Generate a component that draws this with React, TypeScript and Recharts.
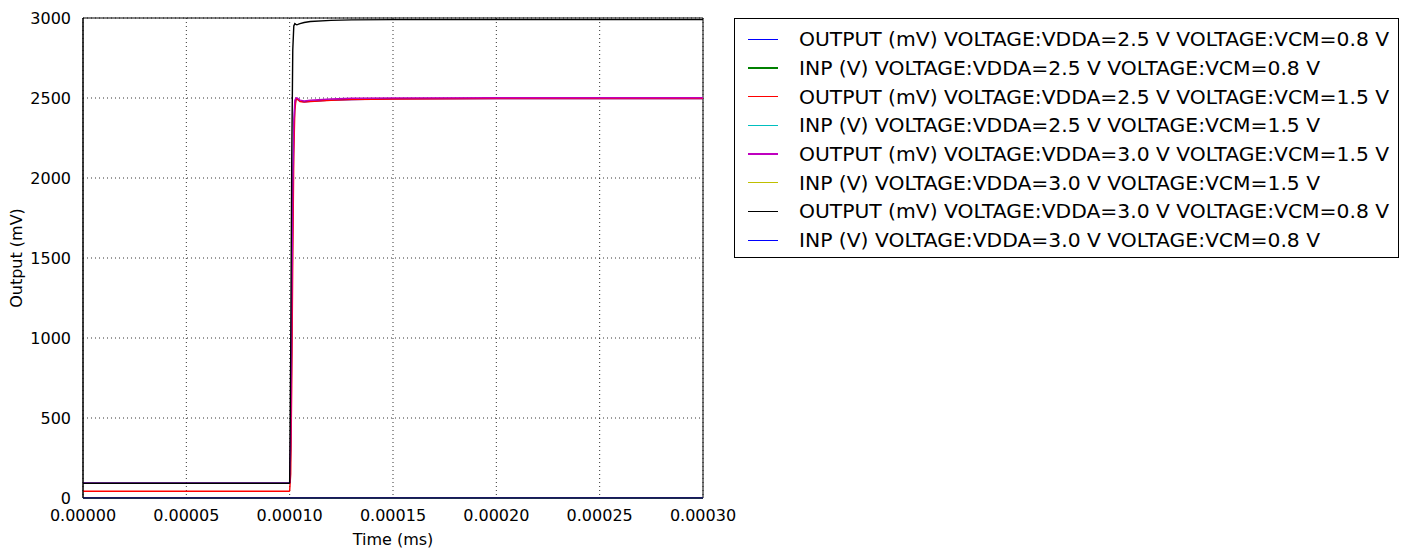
import {
  CartesianGrid,
  Line,
  LineChart,
  ReferenceArea,
  XAxis,
  YAxis,
} from "recharts";

const time = [
  0, 0.00005, 0.0000998, 0.0001, 0.0001005, 0.000101, 0.0001015, 0.000102, 0.0001025,
  0.000103, 0.0001035, 0.000104, 0.000105, 0.000107, 0.00011, 0.00012, 0.00013,
  0.00015, 0.0002, 0.00025, 0.0003,
];

const out25vcm08 = [92, 92, 92, 94, 300, 1000, 1800, 2300, 2450, 2490, 2495, 2490, 2480, 2476, 2480, 2487, 2491, 2495, 2496, 2496, 2496];
const inp25vcm08 = [0.8, 0.8, 0.8, 0.8, 0.8, 0.8, 0.8, 0.8, 0.8, 0.8, 0.8, 0.8, 0.8, 0.8, 0.8, 0.8, 0.8, 0.8, 0.8, 0.8, 0.8];
const out25vcm15 = [42, 42, 42, 45, 150, 700, 1500, 2150, 2420, 2485, 2495, 2490, 2478, 2474, 2478, 2486, 2490, 2494, 2496, 2496, 2496];
const inp25vcm15 = [1.5, 1.5, 1.5, 1.5, 1.5, 1.5, 1.5, 1.5, 1.5, 1.5, 1.5, 1.5, 1.5, 1.5, 1.5, 1.5, 1.5, 1.5, 1.5, 1.5, 1.5];
const out30vcm15 = [92, 92, 92, 95, 400, 1200, 1900, 2350, 2485, 2500, 2502, 2497, 2487, 2482, 2486, 2494, 2498, 2501, 2502, 2502, 2502];
const inp30vcm15 = [1.5, 1.5, 1.5, 1.5, 1.5, 1.5, 1.5, 1.5, 1.5, 1.5, 1.5, 1.5, 1.5, 1.5, 1.5, 1.5, 1.5, 1.5, 1.5, 1.5, 1.5];
const out30vcm08 = [92, 92, 92, 95, 900, 2100, 2800, 2950, 2965, 2960, 2958, 2960, 2965, 2972, 2978, 2985, 2988, 2990, 2990, 2990, 2990];
const inp30vcm08 = [0.8, 0.8, 0.8, 0.8, 0.8, 0.8, 0.8, 0.8, 0.8, 0.8, 0.8, 0.8, 0.8, 0.8, 0.8, 0.8, 0.8, 0.8, 0.8, 0.8, 0.8];

const seriesNames = [
  "OUTPUT (mV) VOLTAGE:VDDA=2.5 V VOLTAGE:VCM=0.8 V",
  "INP (V) VOLTAGE:VDDA=2.5 V VOLTAGE:VCM=0.8 V",
  "OUTPUT (mV) VOLTAGE:VDDA=2.5 V VOLTAGE:VCM=1.5 V",
  "INP (V) VOLTAGE:VDDA=2.5 V VOLTAGE:VCM=1.5 V",
  "OUTPUT (mV) VOLTAGE:VDDA=3.0 V VOLTAGE:VCM=1.5 V",
  "INP (V) VOLTAGE:VDDA=3.0 V VOLTAGE:VCM=1.5 V",
  "OUTPUT (mV) VOLTAGE:VDDA=3.0 V VOLTAGE:VCM=0.8 V",
  "INP (V) VOLTAGE:VDDA=3.0 V VOLTAGE:VCM=0.8 V",
];
const seriesValues = [out25vcm08, inp25vcm08, out25vcm15, inp25vcm15, out30vcm15, inp30vcm15, out30vcm08, inp30vcm08];
const colors = ["#0000ff", "#008000", "#ff0000", "#00bfbf", "#bf00bf", "#bfbf00", "#000000", "#0000ff"];

const xTicks = [0, 0.00005, 0.0001, 0.00015, 0.0002, 0.00025, 0.0003];
const yTicks = [0, 500, 1000, 1500, 2000, 2500, 3000];

const data = time.map((t, i) => {
  const row: Record<string, number> = { t };
  seriesValues.forEach((vals, s) => {
    row[`s${s}`] = vals[i];
  });
  return row;
});

const font = "DejaVu Sans, sans-serif";

const LegendBox = () => (
  <div
    style={{
      position: "absolute",
      left: 726,
      top: 10,
      border: "1px solid #000",
      background: "#fff",
      boxSizing: "border-box",
      width: 665,
      height: 240,
      padding: "6px 0 0 13px",
      fontFamily: font,
      fontSize: 20.3,
      color: "#000",
    }}
  >
    {seriesNames.map((name, i) => (
      <div key={name} style={{ display: "flex", alignItems: "center", height: 28.7 }}>
        <div style={{ width: 30, height: 1.3, background: colors[i], marginRight: 21 }} />
        <span style={{ whiteSpace: "nowrap" }}>{name}</span>
      </div>
    ))}
  </div>
);

export default function App() {
  return (
    <div style={{ position: "relative", width: 1400, height: 549 }}>
      <LineChart
        width={1400}
        height={549}
        data={data}
        margin={{ top: 10, right: 705, bottom: 0, left: 0 }}
        style={{ fontFamily: font }}
      >
        <CartesianGrid stroke="#000" strokeDasharray="1 3" strokeWidth={0.8} />
        <XAxis
          type="number"
          dataKey="t"
          domain={[0, 0.0003]}
          ticks={xTicks}
          tickFormatter={(v: number) => v.toFixed(5)}
          tick={{ fill: "#000", fontSize: 16 }}
          tickLine={false}
          axisLine={{ stroke: "#000" }}
          height={59}
          tickMargin={6}
          label={{ value: "Time (ms)", position: "insideBottom", offset: 12, fill: "#000", fontSize: 16 }}
        />
        <YAxis
          type="number"
          domain={[0, 3000]}
          ticks={yTicks}
          tick={{ fill: "#000", fontSize: 16 }}
          tickLine={false}
          axisLine={{ stroke: "#000" }}
          width={75}
          tickMargin={6}
          label={{ value: "Output (mV)", angle: -90, position: "insideLeft", offset: 8, fill: "#000", fontSize: 16, style: { textAnchor: "middle" } }}
        />
        <ReferenceArea x1={0} x2={0.0003} y1={0} y2={3000} fill="none" stroke="#000" strokeWidth={1} ifOverflow="visible" />
        {seriesNames.map((name, i) => (
          <Line
            key={name}
            name={name}
            type="linear"
            dataKey={`s${i}`}
            stroke={colors[i]}
            strokeWidth={1.4}
            dot={false}
            isAnimationActive={false}
          />
        ))}
      </LineChart>
      <LegendBox />
    </div>
  );
}
